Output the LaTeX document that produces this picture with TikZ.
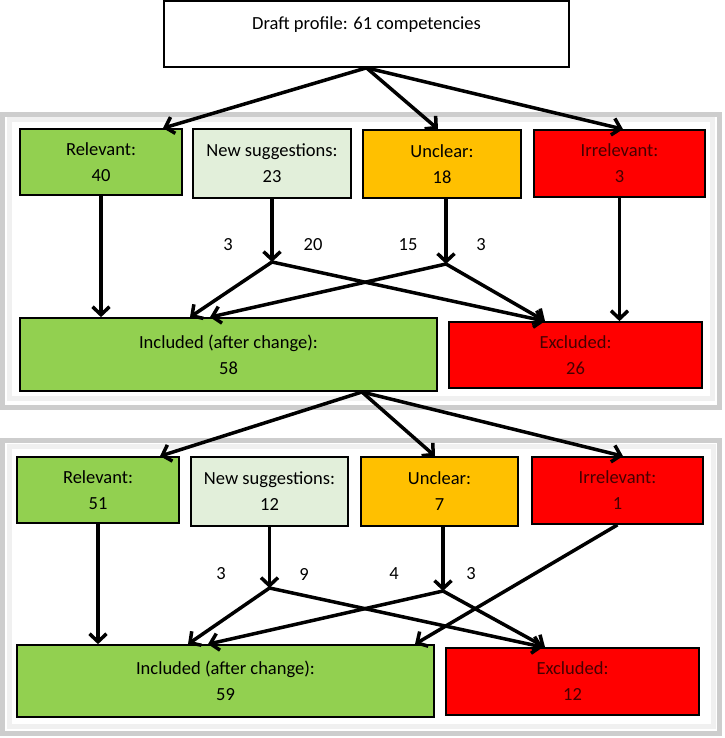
\documentclass[tikz,border=0pt]{standalone}
\usepackage{fontspec}
\setmainfont{Carlito}
\usetikzlibrary{arrows.meta}
\definecolor{grn}{HTML}{92D050}
\definecolor{lgrn}{HTML}{E2EFDA}
\definecolor{org}{HTML}{FFC000}
\definecolor{rd}{HTML}{FF0000}
\definecolor{rdtext}{RGB}{70,0,0}
\definecolor{frameout}{HTML}{CDCDCD}
\definecolor{framein}{HTML}{F0F0F0}
\tikzset{
  box/.style={draw=black, line width=1.7pt, inner sep=0pt, align=center, font=\fontsize{18.5}{22}\selectfont},
  arr/.style={line width=3.5pt, -{Straight Barb[length=8pt,width=17pt]}},
  lbl/.style={font=\fontsize{18.5}{22}\selectfont, inner sep=0pt},
}
\begin{document}
\begin{tikzpicture}[x=1pt,y=-1pt]
\useasboundingbox (0,0) rectangle (724,738);
% frames
\draw[frameout, line width=5pt] (2.5,114.5) rectangle (719,407);
\draw[framein, line width=5pt] (9,119.5) rectangle (712.5,398);
\draw[frameout, line width=5pt] (2.5,440.5) rectangle (719.5,733.5);
\draw[framein, line width=5pt] (9,446) rectangle (713,726.5);

% top box
\node[box, fill=white, minimum width=405pt, minimum height=66pt] (top) at (366.5,34) {};
\node[lbl] (toptxt) at (366.5,25) {Draft profile: 61 competencies};

% panel 1
\node[box, fill=grn, minimum width=162pt, minimum height=66pt] (R1) at (101,162) {Relevant:\\[4pt]40};
\node[box, fill=lgrn, minimum width=158pt, minimum height=69pt] (N1) at (272,163.5) {New suggestions:\\[4pt]23};
\node[box, fill=org, minimum width=158pt, minimum height=68pt] (U1) at (442,164) {Unclear:\\[4pt]18};
\node[box, fill=rd, text=rdtext, minimum width=171pt, minimum height=67pt] (I1) at (619.5,163.5) {Irrelevant:\\[4pt]3};
\node[box, fill=grn, minimum width=417pt, minimum height=73pt] (Inc1) at (228.5,354.5) {Included (after change):\\[4pt]58};
\node[box, fill=rd, text=rdtext, minimum width=253pt, minimum height=66pt] (Ex1) at (575.5,355) {Excluded:\\[4pt]26};

% panel 2
\node[box, fill=grn, minimum width=162pt, minimum height=66pt] (R2) at (98,490) {Relevant:\\[4pt]51};
\node[box, fill=lgrn, minimum width=157pt, minimum height=69pt] (N2) at (269.5,491.5) {New suggestions:\\[4pt]12};
\node[box, fill=org, minimum width=157pt, minimum height=69pt] (U2) at (439.5,491.5) {Unclear:\\[4pt]7};
\node[box, fill=rd, text=rdtext, minimum width=171pt, minimum height=67pt] (I2) at (617.5,490.5) {Irrelevant:\\[4pt]1};
\node[box, fill=grn, minimum width=417pt, minimum height=72pt] (Inc2) at (225.5,681) {Included (after change):\\[4pt]59};
\node[box, fill=rd, text=rdtext, minimum width=253pt, minimum height=67pt] (Ex2) at (572.5,681.5) {Excluded:\\[4pt]12};

% junctions
\coordinate (J1a) at (272,262);
\coordinate (J1b) at (446,264);
\coordinate (J2a) at (269.5,588);
\coordinate (J2b) at (443,591);
\coordinate (split) at (362,392);

% top arrows
\draw[arr] (top.south) -- ([xshift=62pt]R1.north);
\draw[arr] (top.south) -- ([xshift=-4pt]U1.north);
\draw[arr] (top.south) -- ([xshift=3.5pt]I1.north);

% panel 1 arrows
\draw[arr] (R1.south) -- (R1.south |- Inc1.north);
\draw[arr] (N1.south) -- (J1a);
\draw[arr] ([xshift=4pt]U1.south) -- (J1b);
\draw[arr] (I1.south) -- (I1.south |- Ex1.north);
\draw[arr] (J1a) -- ([xshift=-38.5pt]Inc1.north);
\draw[arr] (J1a) -- ([xshift=-30.5pt]Ex1.north);
\draw[arr] (J1b) -- ([xshift=-30.5pt]Ex1.north);
\draw[arr] (J1b) -- ([xshift=-18.5pt]Inc1.north);

% panel 1 labels
\node[lbl] (l1) at (228,245) {3};
\node[lbl] (l2) at (313,245) {20};
\node[lbl] (l3) at (408,245) {15};
\node[lbl] (l4) at (481,245) {3};

% arrows to panel 2
\draw[arr] (split) -- ([xshift=62pt]R2.north);
\draw[arr] (split) -- ([xshift=-4.5pt]U2.north);
\draw[arr] (split) -- ([xshift=5.5pt]I2.north);

% panel 2 arrows
\draw[arr] (R2.south) -- (R2.south |- Inc2.north);
\draw[arr] (N2.south) -- (J2a);
\draw[arr] ([xshift=3.5pt]U2.south) -- (J2b);
\draw[arr] (J2a) -- ([xshift=-37.5pt]Inc2.north);
\draw[arr] (J2a) -- ([xshift=-29.5pt]Ex2.north);
\draw[arr] (J2b) -- ([xshift=-27.5pt]Ex2.north);
\draw[arr] (J2b) -- ([xshift=-17.5pt]Inc2.north);
\draw[arr] (I2.south) -- ([xshift=189.5pt]Inc2.north);

% panel 2 labels
\node[lbl] (m1) at (221,574) {3};
\node[lbl] (m2) at (304,574) {9};
\node[lbl] (m3) at (394,574) {4};
\node[lbl] (m4) at (471,574) {3};
\end{tikzpicture}
\end{document}
